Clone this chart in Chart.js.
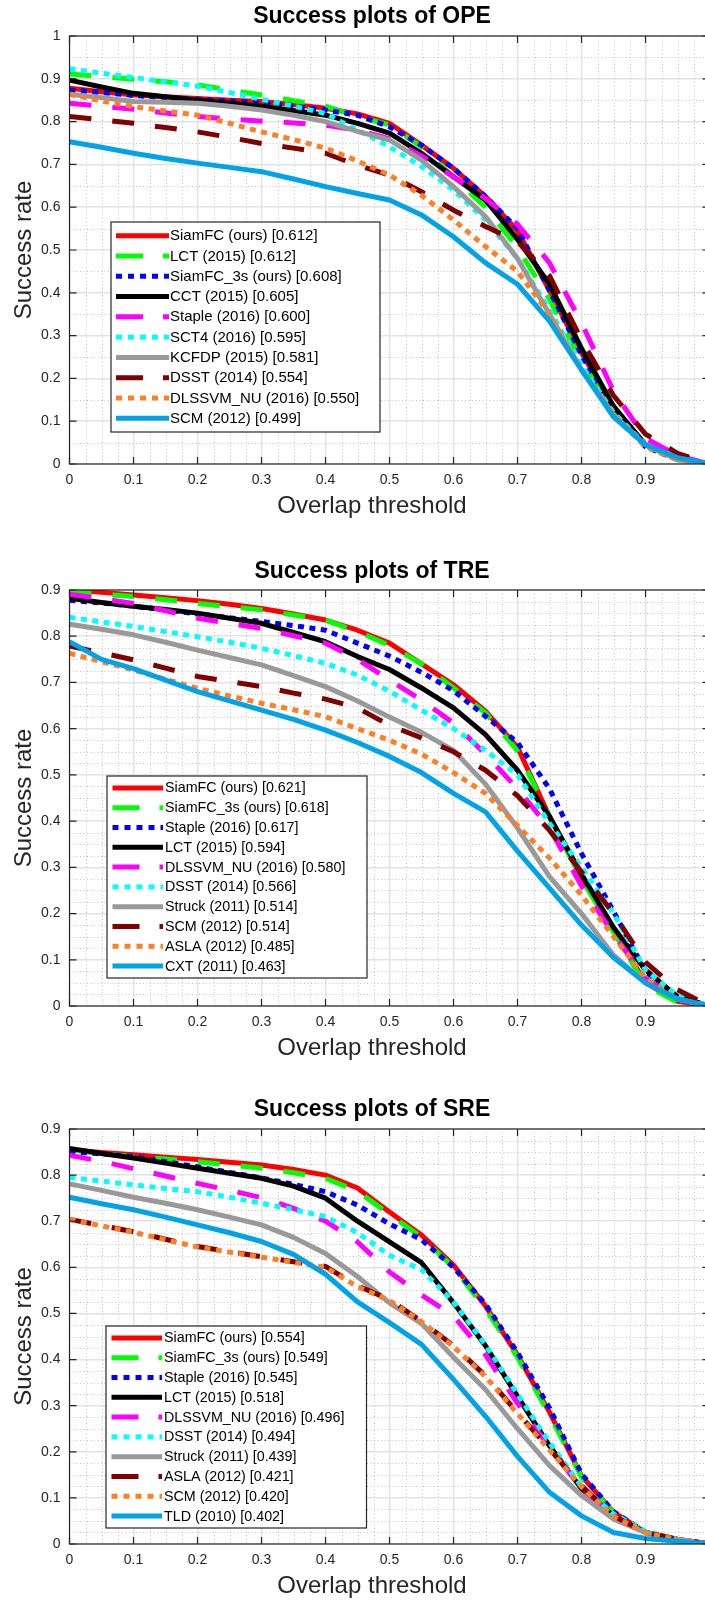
<!DOCTYPE html>
<html>
<head>
<meta charset="utf-8">
<script src="https://cdn.jsdelivr.net/npm/chart.js@4.4.1/dist/chart.umd.min.js"></script>
<style>
  html, body { margin: 0; padding: 0; background: #fff; width: 705px; height: 1600px; overflow: hidden; }
  canvas { position: absolute; left: 0; }
</style>
</head>
<body>
<canvas id="ope" width="744" height="527" style="top:0px;width:744px;height:527px"></canvas>
<canvas id="tre" width="744" height="529" style="top:540px;width:744px;height:529px"></canvas>
<canvas id="sre" width="744" height="527" style="top:1080px;width:744px;height:527px"></canvas>
<script>
// --- DATA ---
const thresholds = [0, 0.05, 0.1, 0.15, 0.2, 0.25, 0.3, 0.35, 0.4, 0.45, 0.5, 0.55, 0.6, 0.65, 0.7, 0.75, 0.8, 0.85, 0.9, 0.95, 1];
const xTickLabels = ['0', '0.1', '0.2', '0.3', '0.4', '0.5', '0.6', '0.7', '0.8', '0.9', '1'];
const yTickLabelsOPE = ['0', '0.1', '0.2', '0.3', '0.4', '0.5', '0.6', '0.7', '0.8', '0.9', '1'];
const yTickLabelsTRE = ['0', '0.1', '0.2', '0.3', '0.4', '0.5', '0.6', '0.7', '0.8', '0.9'];
const yTickLabelsSRE = ['0', '0.1', '0.2', '0.3', '0.4', '0.5', '0.6', '0.7', '0.8', '0.9'];

// OPE
const opeLabels = ['SiamFC (ours) [0.612]', 'LCT (2015) [0.612]', 'SiamFC_3s (ours) [0.608]', 'CCT (2015) [0.605]',
  'Staple (2016) [0.600]', 'SCT4 (2016) [0.595]', 'KCFDP (2015) [0.581]', 'DSST (2014) [0.554]',
  'DLSSVM_NU (2016) [0.550]', 'SCM (2012) [0.499]'];
const opeSiamFC   = [0.878, 0.870, 0.862, 0.858, 0.854, 0.850, 0.847, 0.840, 0.831, 0.818, 0.796, 0.745, 0.691, 0.625, 0.545, 0.405, 0.260, 0.130, 0.045, 0.012, 0];
const opeLCT      = [0.911, 0.905, 0.899, 0.893, 0.886, 0.874, 0.862, 0.849, 0.836, 0.812, 0.792, 0.741, 0.670, 0.600, 0.505, 0.385, 0.240, 0.120, 0.045, 0.010, 0];
const opeSiamFC3s = [0.874, 0.868, 0.861, 0.856, 0.852, 0.848, 0.843, 0.836, 0.827, 0.815, 0.788, 0.745, 0.691, 0.625, 0.550, 0.405, 0.255, 0.125, 0.040, 0.010, 0];
const opeCCT      = [0.897, 0.881, 0.866, 0.858, 0.850, 0.843, 0.836, 0.826, 0.815, 0.796, 0.773, 0.726, 0.671, 0.617, 0.525, 0.420, 0.270, 0.135, 0.045, 0.012, 0];
const opeStaple   = [0.843, 0.836, 0.829, 0.820, 0.812, 0.806, 0.801, 0.797, 0.792, 0.780, 0.760, 0.720, 0.671, 0.620, 0.560, 0.470, 0.330, 0.170, 0.060, 0.020, 0];
const opeSCT4     = [0.923, 0.913, 0.903, 0.893, 0.883, 0.868, 0.852, 0.836, 0.819, 0.780, 0.741, 0.695, 0.640, 0.570, 0.480, 0.360, 0.230, 0.120, 0.045, 0.010, 0];
const opeKCFDP    = [0.864, 0.856, 0.847, 0.845, 0.843, 0.836, 0.827, 0.815, 0.800, 0.777, 0.757, 0.710, 0.648, 0.578, 0.480, 0.350, 0.220, 0.115, 0.045, 0.010, 0];
const opeDSST     = [0.812, 0.804, 0.796, 0.786, 0.776, 0.763, 0.749, 0.738, 0.726, 0.698, 0.675, 0.636, 0.593, 0.555, 0.520, 0.440, 0.290, 0.160, 0.070, 0.025, 0];
const opeDLSSVM   = [0.864, 0.848, 0.835, 0.825, 0.815, 0.796, 0.776, 0.758, 0.738, 0.708, 0.675, 0.628, 0.570, 0.508, 0.450, 0.350, 0.220, 0.115, 0.040, 0.010, 0];
const opeSCM      = [0.753, 0.740, 0.726, 0.714, 0.703, 0.693, 0.683, 0.666, 0.648, 0.632, 0.617, 0.582, 0.531, 0.470, 0.420, 0.334, 0.220, 0.110, 0.045, 0.015, 0];

// TRE
const treLabels = ['SiamFC (ours) [0.621]', 'SiamFC_3s (ours) [0.618]', 'Staple (2016) [0.617]', 'LCT (2015) [0.594]',
  'DLSSVM_NU (2016) [0.580]', 'DSST (2014) [0.566]', 'Struck (2011) [0.514]', 'SCM (2012) [0.514]',
  'ASLA (2012) [0.485]', 'CXT (2011) [0.463]'];
const treSiamFC   = [0.900, 0.895, 0.889, 0.883, 0.877, 0.869, 0.860, 0.848, 0.835, 0.813, 0.785, 0.740, 0.695, 0.638, 0.560, 0.410, 0.277, 0.165, 0.050, 0.010, 0];
const treSiamFC3s = [0.896, 0.891, 0.886, 0.879, 0.871, 0.864, 0.857, 0.846, 0.835, 0.810, 0.780, 0.740, 0.688, 0.634, 0.552, 0.410, 0.275, 0.160, 0.045, 0.008, 0];
const treStaple   = [0.878, 0.872, 0.865, 0.857, 0.848, 0.840, 0.832, 0.823, 0.813, 0.785, 0.757, 0.722, 0.682, 0.627, 0.570, 0.470, 0.330, 0.205, 0.075, 0.020, 0];
const treLCT      = [0.882, 0.873, 0.865, 0.858, 0.850, 0.839, 0.828, 0.808, 0.788, 0.756, 0.728, 0.688, 0.645, 0.587, 0.510, 0.410, 0.285, 0.170, 0.078, 0.020, 0];
const treDLSSVM   = [0.891, 0.881, 0.871, 0.855, 0.839, 0.828, 0.817, 0.801, 0.785, 0.750, 0.705, 0.662, 0.612, 0.545, 0.470, 0.385, 0.260, 0.155, 0.060, 0.015, 0];
const treDSST     = [0.841, 0.831, 0.821, 0.810, 0.799, 0.787, 0.774, 0.758, 0.741, 0.716, 0.681, 0.640, 0.600, 0.553, 0.500, 0.395, 0.300, 0.200, 0.078, 0.022, 0];
const treStruck   = [0.826, 0.815, 0.803, 0.787, 0.770, 0.754, 0.738, 0.715, 0.691, 0.660, 0.625, 0.592, 0.553, 0.480, 0.385, 0.280, 0.200, 0.110, 0.050, 0.015, 0];
const treSCM      = [0.779, 0.764, 0.749, 0.731, 0.713, 0.702, 0.691, 0.677, 0.664, 0.645, 0.607, 0.580, 0.550, 0.510, 0.455, 0.380, 0.290, 0.200, 0.095, 0.035, 0];
const treASLA     = [0.763, 0.745, 0.727, 0.707, 0.687, 0.671, 0.655, 0.641, 0.626, 0.600, 0.575, 0.545, 0.505, 0.460, 0.390, 0.320, 0.240, 0.150, 0.060, 0.015, 0];
const treCXT      = [0.788, 0.750, 0.730, 0.705, 0.680, 0.660, 0.640, 0.620, 0.597, 0.570, 0.540, 0.505, 0.460, 0.420, 0.335, 0.255, 0.175, 0.105, 0.050, 0.015, 0];

// SRE
const sreLabels = ['SiamFC (ours) [0.554]', 'SiamFC_3s (ours) [0.549]', 'Staple (2016) [0.545]', 'LCT (2015) [0.518]',
  'DLSSVM_NU (2016) [0.496]', 'DSST (2014) [0.494]', 'Struck (2011) [0.439]', 'ASLA (2012) [0.421]',
  'SCM (2012) [0.420]', 'TLD (2010) [0.402]'];
const sreSiamFC   = [0.855, 0.849, 0.844, 0.839, 0.834, 0.828, 0.822, 0.812, 0.800, 0.772, 0.720, 0.670, 0.605, 0.516, 0.410, 0.286, 0.148, 0.069, 0.025, 0.010, 0];
const sreSiamFC3s = [0.855, 0.847, 0.840, 0.835, 0.829, 0.822, 0.815, 0.805, 0.793, 0.765, 0.715, 0.665, 0.600, 0.510, 0.405, 0.280, 0.145, 0.068, 0.025, 0.010, 0];
const sreStaple   = [0.851, 0.846, 0.840, 0.829, 0.818, 0.806, 0.794, 0.780, 0.764, 0.735, 0.694, 0.660, 0.600, 0.520, 0.415, 0.295, 0.152, 0.070, 0.026, 0.010, 0];
const sreLCT      = [0.858, 0.847, 0.837, 0.826, 0.815, 0.804, 0.793, 0.776, 0.750, 0.700, 0.655, 0.610, 0.523, 0.430, 0.320, 0.213, 0.120, 0.061, 0.025, 0.010, 0];
const sreDLSSVM   = [0.843, 0.830, 0.814, 0.798, 0.782, 0.767, 0.751, 0.728, 0.700, 0.655, 0.590, 0.540, 0.495, 0.410, 0.305, 0.210, 0.120, 0.060, 0.025, 0.010, 0];
const sreDSST     = [0.795, 0.787, 0.779, 0.771, 0.764, 0.752, 0.739, 0.725, 0.710, 0.675, 0.626, 0.595, 0.525, 0.432, 0.325, 0.220, 0.125, 0.065, 0.028, 0.010, 0];
const sreStruck   = [0.781, 0.767, 0.752, 0.739, 0.725, 0.709, 0.692, 0.665, 0.630, 0.580, 0.523, 0.478, 0.405, 0.335, 0.250, 0.170, 0.105, 0.054, 0.025, 0.010, 0];
const sreASLA     = [0.704, 0.691, 0.677, 0.661, 0.645, 0.634, 0.623, 0.612, 0.602, 0.560, 0.530, 0.483, 0.430, 0.365, 0.285, 0.206, 0.126, 0.061, 0.025, 0.010, 0];
const sreSCM      = [0.704, 0.690, 0.676, 0.660, 0.644, 0.633, 0.622, 0.611, 0.600, 0.558, 0.528, 0.482, 0.428, 0.363, 0.283, 0.204, 0.124, 0.060, 0.024, 0.010, 0];
const sreTLD      = [0.752, 0.738, 0.725, 0.709, 0.692, 0.675, 0.656, 0.628, 0.585, 0.525, 0.480, 0.433, 0.357, 0.277, 0.190, 0.112, 0.061, 0.025, 0.012, 0.006, 0];

// --- STYLE (per legend slot, same in all three plots) ---
const FONT = "'Liberation Sans', Arial, Helvetica, sans-serif";
const lineColors = ['#ff0000', '#00ff00', '#0000ff', '#000000', '#ff00ff', '#00ffff', '#999999', '#800000', '#ff7f27', '#00a2e8'];
const DASH = [22, 21], DOT = [6, 5.5];
const lineDashes = [[], DASH, DOT, [], DASH, DOT, [], DASH, DOT, []];
// legend samples use a slightly longer pattern, like the MATLAB legend
const legendDash = d => d === DASH ? [27, 20] : d === DOT ? [6, 6] : [];

// minor dotted grid + box with inward ticks (MATLAB look)
const frameGrid = {
  id: 'frameGrid',
  beforeDatasetsDraw(chart, args, o) {
    const { ctx, chartArea: a, scales: { x, y } } = chart;
    ctx.save();
    ctx.strokeStyle = '#c2c2c2';
    ctx.lineWidth = 1;
    ctx.setLineDash([1, 2.5]);
    for (let k = 1; k < 10 * o.xSub; k++) {
      if (k % o.xSub === 0) continue;
      const px = Math.round(x.getPixelForValue(k * 0.1 / o.xSub)) + 0.5;
      ctx.beginPath(); ctx.moveTo(px, a.top); ctx.lineTo(px, a.bottom); ctx.stroke();
    }
    const ySteps = Math.round(o.yMax * 10) * o.ySub;
    for (let k = 1; k < ySteps; k++) {
      if (k % o.ySub === 0) continue;
      const py = Math.round(y.getPixelForValue(k * 0.1 / o.ySub)) + 0.5;
      ctx.beginPath(); ctx.moveTo(a.left, py); ctx.lineTo(a.right, py); ctx.stroke();
    }
    ctx.restore();
  },
  afterDatasetsDraw(chart) {
    const { ctx, chartArea: a, scales: { x, y } } = chart;
    ctx.save();
    ctx.strokeStyle = '#262626';
    ctx.lineWidth = 1.2;
    ctx.strokeRect(a.left, a.top, a.right - a.left, a.bottom - a.top);
    x.ticks.forEach(t => {
      const px = x.getPixelForValue(t.value);
      ctx.beginPath();
      ctx.moveTo(px, a.bottom); ctx.lineTo(px, a.bottom - 7);
      ctx.moveTo(px, a.top); ctx.lineTo(px, a.top + 7);
      ctx.stroke();
    });
    y.ticks.forEach(t => {
      const py = y.getPixelForValue(t.value);
      ctx.beginPath();
      ctx.moveTo(a.left, py); ctx.lineTo(a.left + 7, py);
      ctx.moveTo(a.right, py); ctx.lineTo(a.right - 7, py);
      ctx.stroke();
    });
    ctx.restore();
  }
};

// legend box inside the axes, bottom-left
const boxLegend = {
  id: 'boxLegend',
  afterDraw(chart, args, o) {
    const { ctx, chartArea: a } = chart;
    const sets = chart.data.datasets;
    const h = o.rowH * sets.length + o.padV * 2;
    const x0 = a.left + o.dx, y0 = a.bottom - o.dy - h;
    ctx.save();
    ctx.fillStyle = '#fff';
    ctx.fillRect(x0, y0, o.width, h);
    ctx.strokeStyle = '#262626';
    ctx.lineWidth = 1.2;
    ctx.strokeRect(x0, y0, o.width, h);
    ctx.font = o.fontSize + 'px ' + FONT;
    ctx.textBaseline = 'middle';
    sets.forEach((ds, i) => {
      const yy = y0 + o.padV + o.rowH * (i + 0.5);
      ctx.strokeStyle = ds.borderColor;
      ctx.lineWidth = 5;
      ctx.lineCap = 'butt';
      ctx.setLineDash(legendDash(ds.borderDash));
      ctx.beginPath(); ctx.moveTo(x0 + o.lineFrom, yy); ctx.lineTo(x0 + o.lineTo, yy); ctx.stroke();
      ctx.setLineDash([]);
      ctx.fillStyle = '#000';
      ctx.fillText(ds.label, x0 + o.textX, yy + 0.5);
    });
    ctx.restore();
  }
};

function makeChart(id, cfg) {
  const n = cfg.series.length;
  return new Chart(document.getElementById(id), {
    type: 'line',
    data: {
      datasets: cfg.series.map((vals, i) => ({
        label: cfg.labels[i],
        data: thresholds.map((t, k) => ({ x: t, y: vals[k] })),
        xAxisID: 'x',
        yAxisID: 'y',
        borderColor: lineColors[i],
        borderWidth: 5,
        borderDash: lineDashes[i],
        borderCapStyle: 'butt',
        borderJoinStyle: 'round',
        pointRadius: 0,
        tension: 0,
        fill: false,
        order: n - i // later series on top
      }))
    },
    options: {
      responsive: false,
      animation: false,
      devicePixelRatio: 1,
      layout: { padding: 0, autoPadding: false },
      events: [],
      plugins: {
        legend: { display: false },
        tooltip: { enabled: false },
        title: {
          display: true, text: cfg.title, color: '#000',
          font: { family: FONT, size: 23, weight: 'bold' },
          padding: { top: cfg.titleTop, bottom: cfg.titleBottom }
        },
        subtitle: {
          display: true, position: 'bottom', text: 'Overlap threshold', color: '#262626',
          font: { family: FONT, size: 24, weight: 'normal' },
          padding: { top: 1.1, bottom: 6.1 }
        },
        frameGrid: { xSub: 4, ySub: cfg.ySub, yMax: cfg.yMax },
        boxLegend: cfg.legend
      },
      scales: {
        x: {
          type: 'linear', min: 0, max: 1,
          grid: { color: '#e3e3e3', lineWidth: 1.5, drawTicks: false },
          border: { display: false },
          ticks: {
            stepSize: 0.1, autoSkip: false, maxRotation: 0, padding: 8, color: '#262626',
            font: { family: FONT, size: 14 },
            callback: (v, i) => xTickLabels[i]
          },
          afterFit: s => { s.height = 27; }
        },
        y: {
          type: 'linear', min: 0, max: cfg.yMax,
          grid: { color: '#e3e3e3', lineWidth: 1.5, drawTicks: false },
          border: { display: false },
          ticks: {
            stepSize: 0.1, padding: 9, color: '#262626',
            font: { family: FONT, size: 14 },
            callback: (v, i) => cfg.yTicks[i]
          },
          title: {
            display: true, text: 'Success rate', color: '#262626',
            font: { family: FONT, size: 24 },
            padding: { top: 9.6, bottom: 0 }
          },
          afterFit: s => { s.width = 69.5; }
        },
        pad: {
          type: 'linear', position: 'right',
          grid: { display: false, drawTicks: false },
          border: { display: false },
          ticks: { display: false },
          afterFit: s => { s.width = 34.5; }
        }
      }
    },
    plugins: [frameGrid, boxLegend]
  });
}

makeChart('ope', {
  title: 'Success plots of OPE', titleTop: 3.2, titleBottom: 5.2,
  yMax: 1, ySub: 2, yTicks: yTickLabelsOPE,
  labels: opeLabels,
  series: [opeSiamFC, opeLCT, opeSiamFC3s, opeCCT, opeStaple, opeSCT4, opeKCFDP, opeDSST, opeDLSSVM, opeSCM],
  legend: { dx: 41.5, dy: 32, width: 269, rowH: 20.3, padV: 3.5, fontSize: 15, lineFrom: 5, lineTo: 58, textX: 59 }
});

makeChart('tre', {
  title: 'Success plots of TRE', titleTop: 18.2, titleBottom: 4.2,
  yMax: 0.9, ySub: 4, yTicks: yTickLabelsTRE,
  labels: treLabels,
  series: [treSiamFC, treSiamFC3s, treStaple, treLCT, treDLSSVM, treDSST, treStruck, treSCM, treASLA, treCXT],
  legend: { dx: 37.5, dy: 28, width: 260, rowH: 19.8, padV: 2, fontSize: 14.3, lineFrom: 5.5, lineTo: 56, textX: 58 }
});

makeChart('sre', {
  title: 'Success plots of SRE', titleTop: 16.2, titleBottom: 5.2,
  yMax: 0.9, ySub: 4, yTicks: yTickLabelsSRE,
  labels: sreLabels,
  series: [sreSiamFC, sreSiamFC3s, sreStaple, sreLCT, sreDLSSVM, sreDSST, sreStruck, sreASLA, sreSCM, sreTLD],
  legend: { dx: 36.5, dy: 16, width: 260.5, rowH: 19.8, padV: 2, fontSize: 14.3, lineFrom: 5.5, lineTo: 56, textX: 58 }
});
</script>
</body>
</html>
